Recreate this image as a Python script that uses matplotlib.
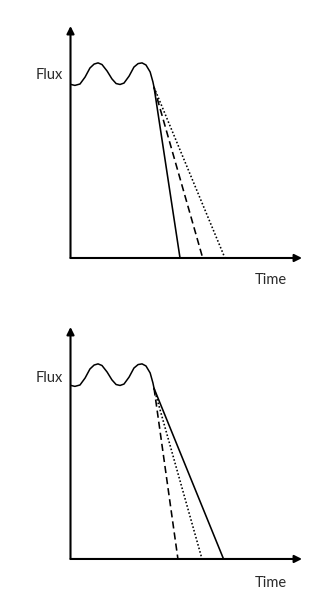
import matplotlib.pyplot as plt

# wavy light curve before the drop (time, flux)
wave_t = [0.02, 0.19, 0.41, 0.63, 0.84, 1.02, 1.19, 1.36, 1.58, 1.79, 1.97,
          2.14, 2.31, 2.53, 2.74, 2.92, 3.09, 3.26, 3.44, 3.56, 3.61]
wave_f = [7.48, 7.44, 7.50, 7.80, 8.19, 8.36, 8.41, 8.34, 8.06, 7.72, 7.52,
          7.48, 7.54, 7.84, 8.23, 8.38, 8.41, 8.32, 8.02, 7.59, 7.35]

# point where the three declines start
split_t = 3.61
split_f = 7.35

# time at which each decline reaches zero flux: solid, dashed, dotted
top_ends = [4.73, 5.71, 6.67]
bottom_ends = [6.61, 4.64, 5.68]

styles = ['-', (0, (4.5, 2.5)), (0, (1, 1.3))]

plt.rcParams['font.family'] = ['Lato', 'DejaVu Sans']

fig = plt.figure(figsize=(3.27, 6.15), dpi=100)
ax1 = fig.add_axes([0.2156, 0.5805, 0.708, 0.3772])
ax2 = fig.add_axes([0.2156, 0.0911, 0.708, 0.3772])


def panel(ax, ends, flux_y, time_y):
    ax.set_xlim(0, 10)
    ax.set_ylim(0, 10)
    ax.axis('off')
    ax.plot(wave_t, wave_f, color='black', lw=1.1, solid_capstyle='round')
    for end, ls in zip(ends, styles):
        ax.plot([split_t, end], [split_f, 0], color='black', lw=1.15, linestyle=ls)
    arrow = dict(arrowstyle='-|>', lw=1.5, color='black', mutation_scale=11,
                 shrinkA=0, shrinkB=0)
    ax.annotate('', xy=(0, 1), xytext=(0, 0), xycoords='axes fraction',
                arrowprops=arrow)
    ax.annotate('', xy=(1, 0), xytext=(0, 0), xycoords='axes fraction',
                arrowprops=arrow)
    ax.text(-0.035, flux_y, 'Flux', transform=ax.transAxes, ha='right',
            va='center', fontsize=10.5, fontweight='normal', color='#2a2a2a')
    ax.text(0.935, time_y, 'Time', transform=ax.transAxes, ha='right',
            va='center', fontsize=10.5, fontweight='normal', color='#2a2a2a')


panel(ax1, top_ends, 0.789, -0.095)
panel(ax2, bottom_ends, 0.78, -0.103)

fig.savefig('out.png', dpi=100)
